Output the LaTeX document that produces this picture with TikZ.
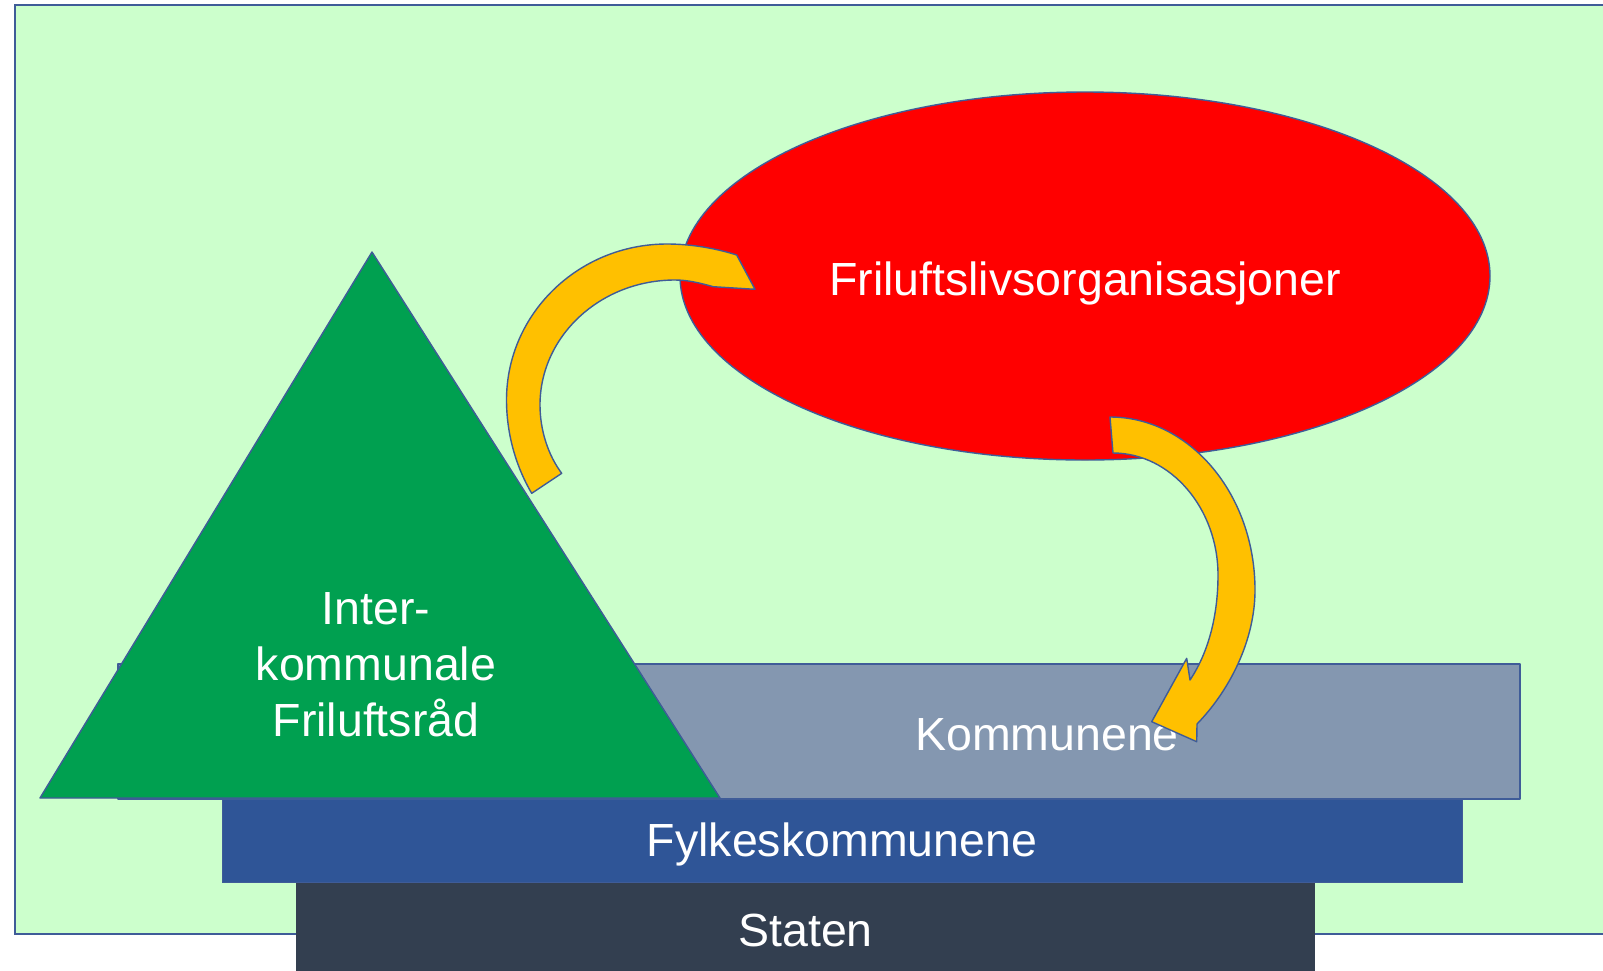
\documentclass[tikz,border=0pt]{standalone}
\usepackage{fontspec}
\setmainfont{Liberation Sans}
\usetikzlibrary{shapes.geometric}
\definecolor{bggreen}{HTML}{CCFFCC}
\definecolor{edgeblue}{HTML}{3F5C98}
\definecolor{orgred}{HTML}{FF0000}
\definecolor{trigreen}{HTML}{00A050}
\definecolor{kommgrey}{HTML}{8497B0}
\definecolor{fylkblue}{HTML}{2F5597}
\definecolor{statdark}{HTML}{333F50}
\definecolor{arrowgold}{HTML}{FFC000}
\tikzset{
  outl/.style={draw=edgeblue, line width=1.4pt, line join=round},
  lbl/.style={text=white, anchor=base, inner sep=0pt, font=\fontsize{46.5}{56}\selectfont},
  blockarrow/.style={outl, fill=arrowgold},
}
\begin{document}
\begin{tikzpicture}[x=1pt,y=-1pt]
\useasboundingbox (0,0) rectangle (1603,970);
% background
\path[fill=white] (0,0) rectangle (1603,970);
\path[fill=bggreen, draw=edgeblue, line width=2pt] (15,5) rectangle (1615,934);
% layered bars
\path[fill=statdark] (296,882) rectangle (1315,975);
\node[lbl] (staten) at (805.5,946.5) {Staten};
\path[fill=fylkblue, draw=edgeblue, line width=0.8pt] (222,799) rectangle (1462,882);
\node[lbl] (fylke) at (842,856.5) {Fylkeskommunene};
\path[fill=kommgrey, outl] (118,664) rectangle (1520,799);
\node[lbl] (komm) at (1047,750) {Kommunene};
% triangle
\path[fill=trigreen, outl] (372,252) -- (720,798) -- (40,798) -- cycle;
\node[lbl, align=center] (ikf) at (376,736) {Inter-\\kommunale\\Friluftsråd};
% ellipse
\node[ellipse, fill=orgred, outl, minimum width=810pt, minimum height=368pt, inner sep=0pt] (org) at (1085,276) {};
\node[lbl] (orgtxt) at (1085,295) {Friluftslivsorganisasjoner};
% left curved arrow
\path[blockarrow]
  (531.7,493.3) .. controls (515,465) and (506.5,432) .. (506.5,400)
  .. controls (506.5,313.9) and (578.4,244) .. (667,244)
  .. controls (690,244) and (715,248) .. (736.7,255)
  -- (755,289.3) -- (713.3,286.7)
  .. controls (700,283) and (688,280) .. (675,280)
  .. controls (600.5,280) and (540,336) .. (540,405)
  .. controls (540,430) and (548,455) .. (561.7,473.3)
  -- cycle;
% right curved arrow
\path[blockarrow]
  (1110,417) .. controls (1190,417) and (1255,494.5) .. (1255,590)
  .. controls (1255,640) and (1230,690) .. (1197,724)
  -- (1196.7,741.7) -- (1151.7,721.7) -- (1186.7,658.3) -- (1190,680)
  .. controls (1210,650) and (1218,612) .. (1218,575)
  .. controls (1218,508.8) and (1171,453) .. (1113,453)
  -- cycle;
\end{tikzpicture}
\end{document}
